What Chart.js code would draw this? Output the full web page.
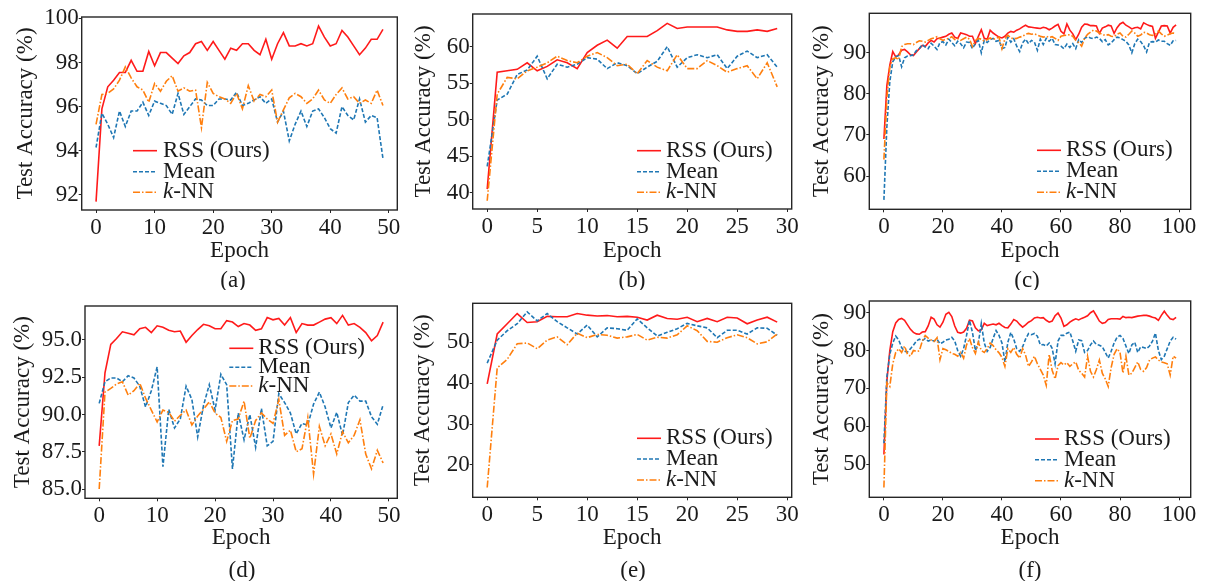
<!DOCTYPE html>
<html>
<head>
<meta charset="utf-8">
<script src="https://cdn.jsdelivr.net/npm/chart.js@4.4.1/dist/chart.umd.min.js"></script>
<style>
  body { margin: 0; background: #fff; width: 1209px; height: 581px; position: relative; overflow: hidden; }
  canvas { position: absolute; }
</style>
</head>
<body>
<canvas id="cA"></canvas>
<canvas id="cB"></canvas>
<canvas id="cC"></canvas>
<canvas id="cD"></canvas>
<canvas id="cE"></canvas>
<canvas id="cF"></canvas>
<script>
// test accuracy (%) per epoch, one array per method and panel
const aRss  = [91.7,95.9,96.9,97.2,97.55,97.55,98.1,97.6,97.6,98.5, 97.85,98.45,98.45,98.2,97.95,98.3,98.45,98.85,98.95,98.55,
               98.95,98.55,98.15,98.65,98.55,98.85,98.85,98.55,98.35,99.05, 98.15,98.85,99.35,98.75,98.75,98.85,98.75,98.85,99.65,99.15,
               98.75,98.85,99.45,99.15,98.75,98.35,98.65,99.05,99.05,99.5];
const aMean = [94.15,95.7,95.2,94.6,95.8,95.1,95.8,95.8,96.2,95.6, 96.25,96.15,96.05,95.65,96.6,95.65,96.0,96.35,96.3,96.05,
               96.05,96.35,96.35,96.3,96.65,96.05,96.15,96.3,96.45,96.15, 96.35,95.3,95.8,94.45,95.2,95.8,95.1,95.8,95.9,95.5,
               95.0,94.8,96.0,95.6,95.4,96.35,95.3,95.6,95.5,93.65];
const aKnn  = [95.2,96.55,96.6,96.8,97.2,97.8,97.3,96.9,96.75,96.2, 97.05,96.7,97.15,97.4,96.7,96.85,96.7,96.75,95.05,97.1,
               96.6,96.45,96.35,96.15,96.6,95.9,96.95,96.25,96.55,96.45, 96.75,95.3,95.85,96.4,96.6,96.45,96.15,96.35,96.75,96.3,
               96.15,96.55,96.85,96.35,96.45,96.15,96.3,96.15,96.75,96.05];

const bRss  = [40.5,56.5,56.7,56.9,57.8,56.7,57.3,58.2,57.8,57.0, 59.2,60.2,60.9,59.8,61.4,61.4,61.4,62.2,63.2,62.5,
               62.7,62.7,62.7,62.7,62.3,62.1,62.1,62.3,62.1,62.5];
const bMean = [43.6,52.7,53.5,56.2,56.8,58.7,55.6,57.6,57.2,57.6, 58.5,58.3,57.0,57.8,57.4,56.3,57.2,58.0,60.0,57.2,
               58.5,58.9,58.5,58.9,57.0,58.7,59.4,58.5,58.9,57.2];
const bKnn  = [38.9,53.5,55.8,55.6,56.7,57.2,57.8,58.7,58.1,57.8, 58.7,59.2,58.5,57.4,57.6,56.3,58.1,57.2,56.7,58.9,
               57.0,57.0,58.1,57.4,56.5,57.0,57.4,55.6,57.8,54.5];

const cRss  = [69,82,87,90.3,89,89.5,90.6,90.8,90.2,89.5, 89.3,90.2,91.0,91.8,91.5,92.4,93.0,92.6,93.4,93.6,
               93.8,94.0,94.5,94.8,93.8,93.5,94.8,94.6,94.4,94.0, 94.0,92.2,94.0,95.6,93.5,93.3,95.5,94.8,94.3,93.8,
               93.6,94.0,94.8,95.2,95.0,95.5,95.8,96.3,96.7,96.3, 96.2,96.1,96.0,95.9,96.2,96.0,95.6,96.0,96.5,96.9,
               95.2,94.6,97.0,95.5,94.6,93.2,94.5,96.2,97.0,96.9, 96.6,96.6,96.5,94.7,96.0,96.3,96.7,96.5,94.7,96.1,
               97.0,97.4,96.7,96.3,95.8,96.1,96.2,95.8,97.3,96.9, 96.6,96.4,93.5,95.0,96.5,96.6,96.5,94.8,96.2,96.8];
const cMean = [54.2,72,83,87.8,89.0,89.3,86.6,88.8,89.2,89.3, 89.5,90.5,91.0,92.0,91.4,91.0,92.3,91.6,90.8,92.5,
               92.7,91.9,93.3,92.5,91.7,92.8,92.2,91.2,92.6,92.5, 91.0,92.3,93.0,90.0,93.0,92.5,93.2,93.5,92.8,93.0,
               91.0,91.3,93.8,92.6,93.4,91.6,90.3,92.4,93.3,92.2, 93.0,92.6,90.6,93.3,92.0,93.5,92.8,93.5,92.0,91.9,
               91.6,91.0,92.1,91.3,92.2,91.0,93.2,92.5,93.5,93.9, 93.6,93.4,93.8,93.5,92.7,93.2,91.9,92.4,93.2,93.8,
               93.6,93.2,92.8,91.9,90.0,92.2,93.3,92.7,91.7,90.2, 92.6,92.7,92.6,93.1,92.8,92.8,92.2,91.8,92.9,93.0];
const cKnn  = [64,79,86.5,88.5,88.8,88.3,91.5,92.0,92.2,92.2, 92.0,92.5,92.9,92.8,92.6,93.0,93.4,93.6,93.9,93.4,
               93.0,93.3,93.5,93.9,93.2,93.5,93.0,93.4,93.8,93.3, 91.5,93.0,93.5,93.3,92.8,93.2,93.6,93.2,93.5,93.8,
               91.0,93.4,94.3,93.6,93.4,93.5,93.8,94.0,94.5,94.7, 94.5,94.6,94.3,94.0,93.8,94.0,93.7,93.9,93.5,93.0,
               94.0,94.2,94.3,94.4,94.0,93.0,92.5,91.6,93.5,94.5, 95.0,95.5,95.3,94.8,94.5,94.2,94.4,94.0,93.9,94.5,
               94.8,94.0,93.8,94.5,95.3,94.8,94.0,94.3,95.0,94.8, 94.4,94.2,94.5,95.3,94.6,94.0,94.3,94.6,94.8,94.7];

const dRss  = [87.9,92.8,94.7,95.1,95.55,95.45,95.35,95.75,95.85,95.5, 95.95,95.85,95.65,95.55,95.6,94.85,95.3,95.7,96.05,95.95,
               95.75,95.75,96.3,96.2,95.9,96.1,96.0,95.65,95.75,96.5, 96.35,96.45,96.0,96.5,95.5,96.1,96.0,96.0,96.2,96.4,
               96.5,96.1,96.65,96.0,96.1,95.85,95.5,94.95,95.3,96.2];
const dMean = [90.75,92.2,92.45,92.45,92.2,92.6,92.45,91.9,90.5,91.6, 93.2,86.5,90.35,89.1,89.7,91.9,91.0,88.5,90.6,92.0,
               90.3,92.7,92.0,86.35,90.1,88.3,90.0,87.8,90.4,87.9, 88.2,91.4,90.8,90.1,88.7,89.4,89.3,90.7,91.5,90.5,
               89.1,90.15,88.6,90.8,91.3,90.9,90.9,89.85,89.35,90.65];
const dKnn  = [85.0,91.5,91.75,92.05,92.2,91.3,91.6,92.1,91.1,90.3, 89.5,90.3,90.15,89.55,89.95,90.3,89.3,89.9,90.35,90.85,
               90.1,89.8,88.2,89.6,89.7,90.9,88.4,89.6,90.1,89.7, 89.4,91.0,88.6,88.95,87.5,87.7,89.8,86.0,89.2,87.9,
               88.7,87.35,88.85,88.1,88.6,89.65,87.35,86.35,87.6,86.75];

const eRss  = [39.8,52.0,54.5,57.0,54.8,55.0,56.3,56.2,56.2,57.0, 56.6,56.4,56.5,56.2,56.3,56.1,55.4,56.6,55.8,55.6,
               56.1,55.0,55.8,55.0,56.1,55.9,54.5,55.4,56.1,54.9];
const eMean = [44.9,50.5,52.8,54.5,57.4,55.2,57.0,55.0,53.5,52.0, 54.2,51.3,53.5,53.3,52.9,55.7,53.5,51.5,52.4,53.3,
               54.6,54.0,53.5,51.1,52.9,52.9,52.0,53.5,53.4,51.7];
const eKnn  = [14.5,43.7,45.8,49.6,49.8,48.4,50.5,51.3,49.4,52.2, 51.1,51.9,51.7,51.0,51.3,51.9,50.5,51.2,51.0,51.8,
               54.0,52.8,50.2,50.0,51.1,51.8,51.1,49.6,50.1,52.0];

const fRss  = [52.5,72,80,85,87.3,88.2,88.5,88.0,86.8,85.6, 84.8,84.4,84.3,84.9,85.0,86.5,88.8,88.3,86.8,86.2,
               87.5,89.6,90.1,89.0,86.5,84.8,84.6,84.9,85.9,88.0, 87.8,86.0,85.2,85.5,87.2,86.6,86.8,87.0,86.8,87.2,
               86.6,86.1,86.0,87.0,88.2,87.8,86.9,86.2,86.8,87.5, 87.9,88.6,88.8,88.6,88.7,88.0,87.5,87.8,89.2,89.9,
               88.6,86.4,86.8,87.5,88.0,88.4,88.1,88.5,88.8,89.2, 90.0,90.5,89.2,87.8,87.2,87.4,88.2,88.4,88.4,88.4,
               88.3,89.0,88.7,88.8,88.7,88.9,89.1,89.2,89.3,89.3, 89.1,88.8,88.6,88.0,89.3,90.4,89.3,88.4,88.2,88.8];
const fMean = [55.5,73,79,82,83.8,82.8,80.8,79.8,79.6,80.5, 81.4,82.5,83.0,82.6,83.2,82.5,82.8,82.5,83.0,81.8,
               82.2,82.8,83.0,83.5,82.5,80.0,78.5,80.5,84.0,88.0, 84.8,80.0,82.0,87.2,82.0,79.8,80.8,83.2,85.3,84.0,
               82.0,77.0,82.2,84.8,83.0,80.5,79.8,81.0,83.0,84.5, 84.2,84.5,83.8,81.5,81.6,81.2,82.0,80.6,76.5,82.5,
               84.0,84.0,84.6,84.9,82.5,79.8,82.8,82.6,79.5,80.0, 81.5,82.5,81.6,81.4,81.0,79.5,78.0,79.8,82.0,83.5,
               84.0,83.2,81.2,79.2,81.5,82.2,79.5,81.0,80.8,80.5, 81.2,82.5,84.6,80.0,77.6,78.5,80.5,82.5,83.5,83.0];
const fKnn  = [43.8,71.5,70.5,76.5,79.5,80.5,79.5,81.2,79.0,78.5, 80.0,79.8,79.9,82.5,84.0,83.3,82.8,82.4,83.4,77.6,
               80.5,80.2,79.8,79.2,79.0,78.5,79.5,78.0,81.5,83.2, 80.8,79.2,82.2,80.0,79.5,80.5,82.0,81.3,80.2,79.4,
               78.2,75.8,80.5,79.5,80.8,79.0,78.0,80.5,78.8,75.8, 77.0,78.5,76.5,75.0,73.5,70.8,79.0,74.8,72.5,76.0,
               76.8,76.2,76.8,75.8,76.5,77.0,74.8,74.0,73.0,78.5, 74.5,73.0,75.0,77.5,74.0,72.5,70.5,75.5,79.0,80.5,
               79.5,74.0,78.5,73.5,74.0,75.5,77.0,75.0,74.5,75.5, 77.5,78.0,78.3,77.5,77.0,76.8,76.5,73.5,78.5,78.0];

const seriesLabels = ['RSS (Ours)', 'Mean', 'k-NN'];
const seriesColors = ['#ff1a1a', '#1f77b4', '#ff7f0e'];
const seriesDashes = [[], [4, 2], [7, 2, 1.5, 2]];

const FAMILY = 'Liberation Serif';
const FS = 23;
const INK = '#1a1a1a';
const textFont = { family: FAMILY, size: FS };

// panel layout: cell = [left, top, width, height], box = plot area [l, t, r, b] in page px
const panels = [
  { id: 'cA', cell: [0, 0, 403, 290],   box: [81.7, 17, 397.3, 210],    epochY: 250.5, ylabX: 25.5,
    caption: ['(a)', 233, 281],
    x: [-2.45, 51.45], xStep: 10, y: [91.32, 100.06], yStep: 2, dec: 0,
    data: [aRss, aMean, aKnn], key: { x: 133, tx: 163, rows: [150.7, 171.7, 192.3] } },
  { id: 'cB', cell: [403, 0, 397, 290], box: [472.7, 14, 791.7, 209],   epochY: 250.5, ylabX: 423.5,
    caption: ['(b)', 632, 281],
    x: [-1.45, 30.45], xStep: 5, y: [37.77, 64.48], yStep: 5, dec: 0,
    data: [bRss, bMean, bKnn], key: { x: 637, tx: 666, rows: [150.7, 171.7, 192.3] } },
  { id: 'cC', cell: [800, 0, 409, 290], box: [869.3, 13.3, 1190.7, 209.3], epochY: 250.5, ylabX: 822,
    caption: ['(c)', 1027, 281],
    x: [-4.95, 103.95], xStep: 20, y: [51.9, 99.6], yStep: 10, dec: 0,
    data: [cRss, cMean, cKnn], key: { x: 1037, tx: 1066, rows: [150.3, 171.3, 192.3] } },
  { id: 'cD', cell: [0, 290, 403, 291],   box: [85, 306, 397.3, 498.3],    epochY: 538, ylabX: 22.5,
    caption: ['(d)', 242, 571],
    x: [-2.45, 51.45], xStep: 10, y: [84.38, 97.28], yStep: 2.5, dec: 1,
    data: [dRss, dMean, dKnn], key: { x: 229.3, tx: 258.3, rows: [348.3, 367.3, 386] } },
  { id: 'cE', cell: [403, 290, 397, 291], box: [472.7, 303.3, 791.7, 497.3], epochY: 538, ylabX: 423,
    caption: ['(e)', 633, 571],
    x: [-1.45, 30.45], xStep: 5, y: [12.1, 59.5], yStep: 10, dec: 0,
    data: [eRss, eMean, eKnn], key: { x: 637, tx: 666, rows: [438.3, 459, 480] } },
  { id: 'cF', cell: [800, 290, 409, 291], box: [869.3, 301, 1190.7, 497.3], epochY: 538, ylabX: 822,
    caption: ['(f)', 1030, 571],
    x: [-4.95, 103.95], xStep: 20, y: [41.2, 93.1], yStep: 10, dec: 0,
    data: [fRss, fMean, fKnn], key: { x: 1035, tx: 1064, rows: [439, 459.7, 480.7] } }
];

// axes frame on all four sides, the in-plot legend (no frame) and the panel caption
const frameAndKey = {
  id: 'frameAndKey',
  afterDatasetsDraw(chart, args, opts) {
    const { ctx, chartArea: a } = chart;
    ctx.save();
    ctx.strokeStyle = '#262626';
    ctx.lineWidth = 1.4;
    ctx.strokeRect(a.left, a.top, a.right - a.left, a.bottom - a.top);
    chart.data.datasets.forEach((ds, i) => {
      const y = opts.rows[i];
      ctx.setLineDash(ds.borderDash);
      ctx.strokeStyle = ds.borderColor;
      ctx.lineWidth = ds.borderWidth;
      ctx.beginPath();
      ctx.moveTo(opts.x, y);
      ctx.lineTo(opts.x + 24, y);
      ctx.stroke();
      ctx.setLineDash([]);
      ctx.fillStyle = INK;
      ctx.textAlign = 'left';
      ctx.textBaseline = 'middle';
      let tx = opts.tx;
      let rest = ds.label;
      if (ds.italic) {
        ctx.font = `italic ${FS}px '${FAMILY}'`;
        ctx.fillText(ds.italic, tx, y);
        tx += ctx.measureText(ds.italic).width;
        rest = rest.slice(ds.italic.length);
      }
      ctx.font = `${FS}px '${FAMILY}'`;
      ctx.fillText(rest, tx, y);
    });
    ctx.font = `${FS}px '${FAMILY}'`;
    ctx.textAlign = 'center';
    ctx.textBaseline = 'middle';
    ctx.fillText(opts.caption[0], opts.caption[1], opts.caption[2]);
    ctx.restore();
  }
};

function makePanel(p) {
  const [cx, cy, cw, ch] = p.cell;
  const [l, t, r, b] = p.box;
  const half = FS * 1.2 / 2;
  const xH = p.epochY + half - b;
  const cv = document.getElementById(p.id);
  cv.width = cw; cv.height = ch;
  cv.style.left = cx + 'px'; cv.style.top = cy + 'px';

  const datasets = p.data.map((vals, i) => ({
    label: seriesLabels[i],
    italic: i === 2 ? 'k' : null,
    data: vals.map((v, k) => ({ x: k, y: v })),
    borderColor: seriesColors[i],
    borderDash: seriesDashes[i],
    borderWidth: 1.6,
    pointRadius: 0,
    tension: 0,
    fill: false,
    order: 3 - i
  }));

  const tickGrid = { display: true, drawOnChartArea: false, drawTicks: true, tickLength: 3, color: '#262626' };

  return new Chart(cv, {
    type: 'line',
    data: { datasets },
    plugins: [frameAndKey],
    options: {
      responsive: false,
      animation: false,
      font: textFont,
      layout: { autoPadding: false, padding: { top: t - cy, right: cx + cw - r, left: 0, bottom: ch - (p.epochY + half - cy) } },
      plugins: {
        legend: { display: false },
        tooltip: { enabled: false },
        frameAndKey: {
          x: p.key.x - cx, tx: p.key.tx - cx,
          rows: p.key.rows.map(v => v - cy),
          caption: [p.caption[0], p.caption[1] - cx, p.caption[2] - cy]
        }
      },
      scales: {
        x: {
          type: 'linear',
          min: p.x[0], max: p.x[1],
          border: { display: false },
          grid: tickGrid,
          ticks: { stepSize: p.xStep, includeBounds: false, padding: 1, maxRotation: 0, color: INK, font: textFont },
          title: { display: true, text: 'Epoch', color: INK, padding: 0, font: textFont },
          afterFit(s) { s.height = xH; s.paddingLeft = 0; s.paddingRight = 0; }
        },
        y: {
          min: p.y[0], max: p.y[1],
          border: { display: false },
          grid: tickGrid,
          ticks: { stepSize: p.yStep, includeBounds: false, padding: 0, color: INK, font: textFont,
                   callback: v => v.toFixed(p.dec) },
          title: { display: true, text: 'Test Accuracy (%)', color: INK, font: textFont,
                   padding: { top: p.ylabX - cx - half, bottom: 0 } },
          afterFit(s) { s.width = l - cx; s.paddingTop = 0; s.paddingBottom = 0; }
        }
      }
    }
  });
}

panels.forEach(makePanel);
</script>
</body>
</html>
